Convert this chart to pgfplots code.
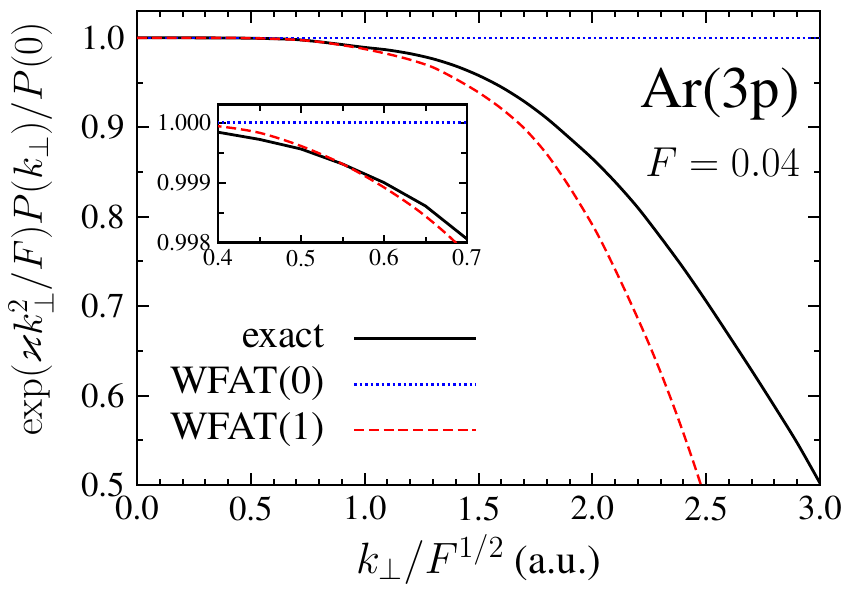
\RequirePackage{fix-cm}
\documentclass[border=0pt]{standalone}
\usepackage{amssymb}
\usepackage[no-math]{fontspec}
\setmainfont{TeX Gyre Termes}
\usepackage{pgfplots}
\pgfplotsset{compat=1.18}
\usepackage{pgfplotstable}

\pgfplotstableread{
k v
0.0 1.0
0.1 1.0
0.2 1.0
0.3 0.99996
0.35 0.99992
0.4 0.99984
0.45 0.99972
0.5 0.99956
0.55 0.99931
0.6 0.99900
0.65 0.99861
0.7 0.99806
0.75 0.99690
0.8 0.99560
0.9 0.99250
1.0 0.98930
1.1 0.98650
1.2 0.98230
1.3 0.97650
1.4 0.96850
1.5 0.95800
1.6 0.94500
1.7 0.92900
1.8 0.91000
1.9 0.88800
2.0 0.86500
2.1 0.83900
2.2 0.81000
2.3 0.77700
2.4 0.74250
2.5 0.70550
2.6 0.66700
2.7 0.62800
2.8 0.58800
2.9 0.54700
3.0 0.50200
}\exact

\pgfplotstableread{
k v
0.0 1.0
3.0 1.0
}\wfatzero

\pgfplotstableread{
k v
0.0 1.0
0.1 1.0
0.2 1.0
0.3 1.0
0.35 0.99999
0.4 0.99994
0.45 0.99983
0.5 0.99961
0.55 0.99931
0.6 0.99892
0.65 0.99844
0.7 0.99780
0.75 0.9968
0.8 0.9955
0.85 0.9938
0.9 0.9918
0.95 0.9898
1.0 0.9875
1.1 0.9820
1.2 0.9755
1.3 0.9670
1.4 0.9540
1.5 0.9390
1.6 0.9210
1.7 0.8990
1.8 0.8700
1.9 0.8330
2.0 0.7910
2.05 0.7670
2.1 0.7410
2.15 0.7140
2.2 0.6860
2.25 0.6570
2.3 0.6260
2.35 0.5930
2.4 0.5580
2.45 0.5210
2.5 0.4820
}\wfatone

\begin{document}
\begin{tikzpicture}
\useasboundingbox (0,0) rectangle (423bp,295.5bp);
\begin{axis}[
  at={(68.5bp,53bp)}, anchor=south west,
  scale only axis, width=341.5bp, height=237bp,
  xmin=0, xmax=3, ymin=0.5, ymax=1.03,
  xtick={0,0.5,...,3}, ytick={0.5,0.6,...,1.0},
  minor x tick num=4, minor y tick num=1,
  tick align=inside,
  major tick length=6bp, minor tick length=3bp,
  every tick/.style={line width=1bp, black},
  axis line style={line width=1.25bp},
  /pgf/number format/assume math mode=true,
  xticklabel style={/pgf/number format/.cd, fixed, fixed zerofill, precision=1, /tikz/.cd, inner sep=1bp, yshift=-4.5bp},
  yticklabel style={/pgf/number format/.cd, fixed, fixed zerofill, precision=1, /tikz/.cd, inner sep=1bp, xshift=-5bp},
  tick label style={font=\fontsize{17.5}{20}\selectfont},
  scaled ticks=false,
  xlabel={{\fontsize{22}{26}\selectfont$k_\perp/F^{1/2}$} (a.u.)},
  ylabel={$\exp(\varkappa k_\perp^2/F)P(k_\perp)/P(0)$},
  label style={font=\fontsize{20.5}{24}\selectfont},
  xlabel style={at={(axis description cs:0.5,-0.186)}, anchor=base, inner sep=0pt},
  ylabel style={at={(axis description cs:-0.155,0.54)}, anchor=center},
  legend style={draw=none, fill=none, at={(axis description cs:0.499,0.359)}, anchor=north east,
    font=\fontsize{20}{24}\selectfont, inner sep=0pt, row sep=0pt,
    nodes={inner sep=2bp, text height=14bp, text depth=5bp}},
  legend cell align=right, legend plot pos=right,
  legend image code/.code={\path (0bp,0bp); \draw[#1] (12bp,0bp) -- (73bp,0bp);},
]
\addplot[black, line width=1.4bp, smooth] table[x=k,y=v] {\exact};
\addlegendentry{exact}
\addplot[blue, line width=1.3bp, dash pattern=on 1.25bp off 1.5bp] table[x=k,y=v] {\wfatzero};
\addlegendentry{WFAT(0)}
\addplot[red, line width=1.2bp, dash pattern=on 5bp off 2.4bp, smooth] table[x=k,y=v] {\wfatone};
\addlegendentry{WFAT(1)}
\node[anchor=base east, inner sep=0pt, font=\fontsize{29.4}{34}\selectfont] at (axis description cs:0.971,0.797) {Ar(3p)};
\node[anchor=base east, inner sep=0pt, font=\fontsize{21}{25}\selectfont] at (axis description cs:0.971,0.650) {$F=0.04$};
\end{axis}
\begin{axis}[
  at={(109bp,174bp)}, anchor=south west,
  scale only axis, width=124.5bp, height=69bp,
  xmin=0.4, xmax=0.7, ymin=0.998, ymax=1.0003,
  xtick={0.4,0.5,0.6,0.7}, ytick={0.998,0.999,1.000},
  minor x tick num=1, minor y tick num=1,
  tick align=inside,
  major tick length=4bp, minor tick length=3bp,
  every tick/.style={line width=1bp, black},
  axis line style={line width=1.25bp},
  axis background/.style={fill=white},
  /pgf/number format/assume math mode=true,
  xticklabel style={/pgf/number format/.cd, fixed, fixed zerofill, precision=1},
  yticklabel style={/pgf/number format/.cd, fixed, fixed zerofill, precision=3},
  tick label style={font=\fontsize{12}{14}\selectfont},
  scaled ticks=false,
]
\addplot[black, line width=1.4bp] table[x=k,y=v] {\exact};
\addplot[blue, line width=1.3bp, dash pattern=on 1.25bp off 1.5bp] table[x=k,y=v] {\wfatzero};
\addplot[red, line width=1.2bp, dash pattern=on 5bp off 2.4bp, smooth] table[x=k,y=v] {\wfatone};
\end{axis}
\end{tikzpicture}
\end{document}
